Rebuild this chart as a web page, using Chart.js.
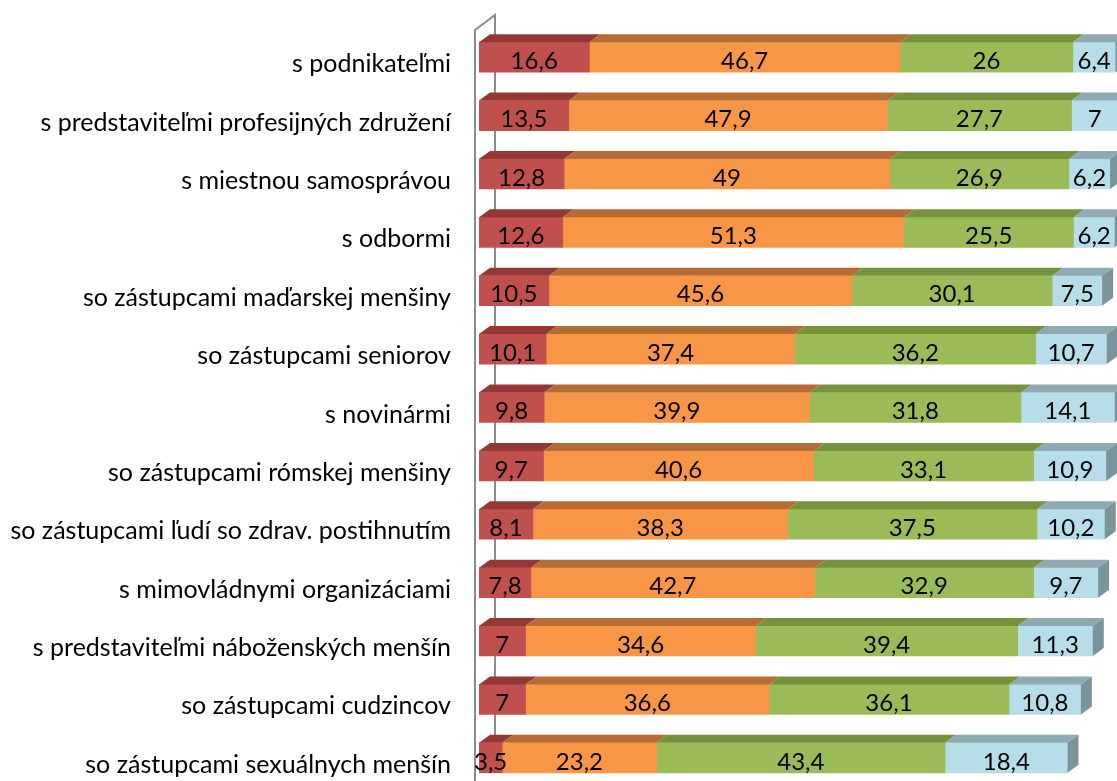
<!DOCTYPE html>
<html>
<head>
<meta charset="utf-8">
<script src="https://cdn.jsdelivr.net/npm/chart.js@4.4.1/dist/chart.umd.min.js"></script>
<style>
    html, body { margin: 0; padding: 0; background: #fff; overflow: hidden; width: 1117px; height: 781px; }
    canvas { display: block; }
</style>
</head>
<body>
<canvas id="barChart" width="1150" height="790"></canvas>
<script>
const categories = [
    's podnikateľmi',
    's predstaviteľmi profesijných združení',
    's miestnou samosprávou',
    's odbormi',
    'so zástupcami maďarskej menšiny',
    'so zástupcami seniorov',
    's novinármi',
    'so zástupcami rómskej menšiny',
    'so zástupcami ľudí so zdrav. postihnutím',
    's mimovládnymi organizáciami',
    's predstaviteľmi náboženských menšín',
    'so zástupcami cudzincov',
    'so zástupcami sexuálnych menšín'
];

const series1 = [16.6, 13.5, 12.8, 12.6, 10.5, 10.1, 9.8, 9.7, 8.1, 7.8, 7, 7, 3.5];
const series2 = [46.7, 47.9, 49, 51.3, 45.6, 37.4, 39.9, 40.6, 38.3, 42.7, 34.6, 36.6, 23.2];
const series3 = [26, 27.7, 26.9, 25.5, 30.1, 36.2, 31.8, 33.1, 37.5, 32.9, 39.4, 36.1, 43.4];
const series4 = [6.4, 7, 6.2, 6.2, 7.5, 10.7, 14.1, 10.9, 10.2, 9.7, 11.3, 10.8, 18.4];

// front face, top face
const faces = [
    ['#C0504D', '#953735'],
    ['#F79646', '#B66D35'],
    ['#9BBB59', '#76923C'],
    ['#B7DEE8', '#8EAAB2']
];
const sideColor = '#7A949B';
const depthX = 11;
const depthY = 8;
const font = 'Lato, "Open Sans", sans-serif';

// 3D look: side wall, top faces and the right end of each bar
const bars3d = {
    id: 'bars3d',
    beforeDatasetsDraw(chart) {
        const ctx = chart.ctx;
        const area = chart.chartArea;
        ctx.save();
        ctx.strokeStyle = '#8C8C8C';
        ctx.lineWidth = 2;
        ctx.beginPath();
        ctx.moveTo(area.left - 4, area.bottom + 5);
        ctx.lineTo(area.left - 4, area.top + 2);
        ctx.lineTo(area.left + 16, area.top - 13);
        ctx.lineTo(area.left + 16, area.bottom - 15);
        ctx.stroke();
        ctx.restore();
    },
    afterDatasetsDraw(chart) {
        const ctx = chart.ctx;
        ctx.save();
        chart.data.datasets.forEach((ds, i) => {
            const meta = chart.getDatasetMeta(i);
            meta.data.forEach(bar => {
                const top = bar.y - bar.height / 2;
                const bottom = bar.y + bar.height / 2;
                ctx.fillStyle = faces[i][1];
                ctx.beginPath();
                ctx.moveTo(bar.base, top);
                ctx.lineTo(bar.base + depthX, top - depthY);
                ctx.lineTo(bar.x + depthX, top - depthY);
                ctx.lineTo(bar.x, top);
                ctx.closePath();
                ctx.fill();
                if (i === chart.data.datasets.length - 1) {
                    ctx.fillStyle = sideColor;
                    ctx.beginPath();
                    ctx.moveTo(bar.x, top);
                    ctx.lineTo(bar.x + depthX, top - depthY);
                    ctx.lineTo(bar.x + depthX, bottom - depthY);
                    ctx.lineTo(bar.x, bottom);
                    ctx.closePath();
                    ctx.fill();
                }
            });
        });

        // value labels
        ctx.fillStyle = '#000';
        ctx.font = '24px ' + font;
        ctx.textAlign = 'center';
        ctx.textBaseline = 'middle';
        chart.data.datasets.forEach((ds, i) => {
            chart.getDatasetMeta(i).data.forEach((bar, j) => {
                const txt = String(ds.data[j]).replace('.', ',');
                ctx.fillText(txt, (bar.x + bar.base) / 2, bar.y + 4);
            });
        });
        ctx.restore();
    }
};

const ctx = document.getElementById('barChart').getContext('2d');
new Chart(ctx, {
    type: 'bar',
    data: {
        labels: categories,
        datasets: [
            { label: 'séria 1', data: series1, backgroundColor: faces[0][0] },
            { label: 'séria 2', data: series2, backgroundColor: faces[1][0] },
            { label: 'séria 3', data: series3, backgroundColor: faces[2][0] },
            { label: 'séria 4', data: series4, backgroundColor: faces[3][0] }
        ]
    },
    options: {
        indexAxis: 'y',
        responsive: false,
        animation: false,
        datasets: { bar: { barThickness: 30, borderWidth: 0 } },
        layout: { padding: { top: 28, bottom: 3, left: 0, right: 6 } },
        plugins: {
            legend: { display: false },
            tooltip: { enabled: false }
        },
        scales: {
            x: {
                stacked: true,
                display: false,
                min: 0,
                max: 100
            },
            y: {
                stacked: true,
                grid: { display: false, drawTicks: false },
                border: { display: false },
                afterFit(scale) {
                    scale.width = 479;
                    scale.paddingTop = 0;
                    scale.paddingBottom = 0;
                },
                ticks: {
                    color: '#000',
                    padding: 28,
                    labelOffset: 7,
                    font: { family: font, size: 25 }
                }
            }
        }
    },
    plugins: [bars3d]
});
</script>
</body>
</html>
